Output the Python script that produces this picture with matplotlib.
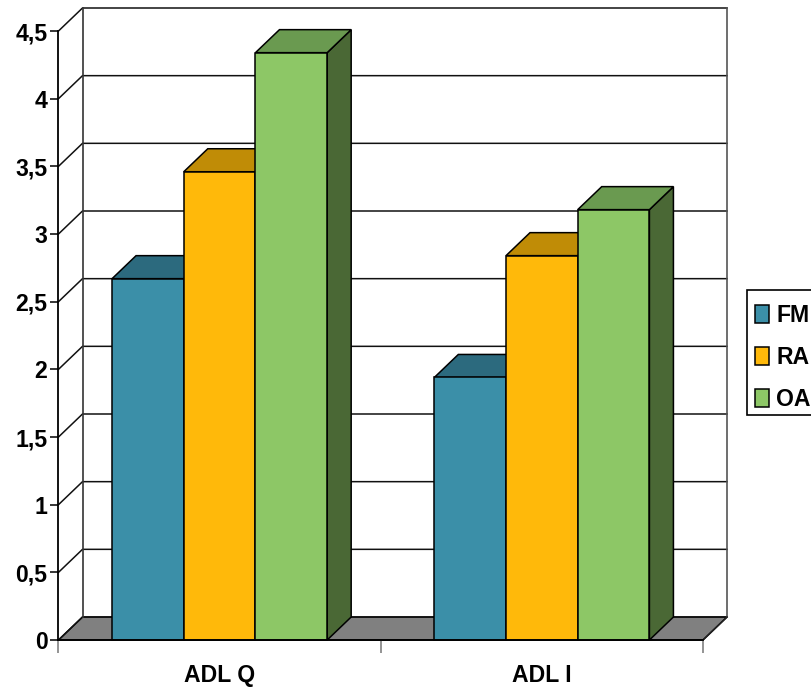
import matplotlib
matplotlib.use('Agg')
import matplotlib.pyplot as plt
from matplotlib.patches import Polygon, Patch, Rectangle

plt.rcParams['font.family'] = ['Liberation Sans', 'DejaVu Sans']
plt.rcParams['font.weight'] = 'bold'

categories = ['ADL Q', 'ADL I']
series = ['FM', 'RA', 'OA']
values_fm = [2.67, 1.94]
values_ra = [3.46, 2.84]
values_oa = [4.34, 3.18]
y_ticks = [0, 0.5, 1, 1.5, 2, 2.5, 3, 3.5, 4, 4.5]
y_labels = ['0', '0,5', '1', '1,5', '2', '2,5', '3', '3,5', '4', '4,5']

front = ['#3b8fa8', '#ffb90a', '#8dc766']
top = ['#2c6a7e', '#c08c06', '#6a9a50']
side = ['#274f5e', '#8a6505', '#4a6835']

W, H = 811, 688
# front plane of the fake 3d box, in pixels
L, R, Y0, Y1 = 58.5, 703, 640, 31
DX = 24 / (R - L) * 2
DY = 23 / (Y0 - Y1) * 4.5
BAR_W = 71.7 / (R - L) * 2

fig = plt.figure(figsize=(W / 100, H / 100), dpi=100)
ax = fig.add_axes([L / W, 1 - Y0 / H, (R - L) / W, (Y0 - Y1) / H])
ax.set_xlim(0, 2)
ax.set_ylim(0, 4.5)
for s in ['top', 'right']:
    ax.spines[s].set_visible(False)
for s in ['left', 'bottom']:
    ax.spines[s].set_linewidth(1.3)
    ax.spines[s].set_zorder(6)


def poly(pts, fc, z, ec='black', lw=1.1):
    ax.add_patch(Polygon(pts, closed=True, facecolor=fc, edgecolor=ec, linewidth=lw,
                         zorder=z, clip_on=False, joinstyle='miter'))


# floor and back wall
poly([(0, 0), (2, 0), (2 + DX, DY), (DX, DY)], '#808080', 1)
for v in y_ticks:
    ax.plot([0, DX, 2 + DX], [v, v + DY, v + DY], color='#111111', lw=1.1,
            clip_on=False, zorder=1.5)
ax.plot([DX, DX], [DY, 4.5 + DY], color='#333333', lw=1.2, clip_on=False, zorder=1.5)
ax.plot([2 + DX, 2 + DX], [DY, 4.5 + DY], color='#555555', lw=1.2, clip_on=False, zorder=1.5)
ax.plot([2, 2 + DX], [0, DY], color='#222222', lw=1.1, clip_on=False, zorder=1.5)

# bars, left to right so each one hides the side of the one before
z = 2
for i, vals in enumerate(zip(values_fm, values_ra, values_oa)):
    x = i + 0.5 - 1.5 * BAR_W
    for j, v in enumerate(vals):
        x0, x1 = x + j * BAR_W, x + (j + 1) * BAR_W
        poly([(x1, 0), (x1 + DX, DY), (x1 + DX, v + DY), (x1, v)], side[j], z)
        poly([(x0, v), (x1, v), (x1 + DX, v + DY), (x0 + DX, v + DY)], top[j], z)
        poly([(x0, 0), (x1, 0), (x1, v), (x0, v)], front[j], z + 0.1)
        z += 0.2

ax.set_yticks(y_ticks, labels=y_labels, fontsize=16.6, fontweight='bold')
ax.tick_params(axis='y', length=6, width=1.1, pad=2)
ax.set_xticks([0, 1, 2], labels=['', '', ''])
ax.tick_params(axis='x', which='major', length=9, width=1.1, color='#777777')
ax.xaxis.get_major_ticks()[0].tick1line.set_color('black')
ax.set_xticks([0.5, 1.5], labels=categories, minor=True, fontsize=16.6, fontweight='bold')
ax.tick_params(axis='x', which='minor', length=0, pad=17.5)

# legend box runs off the right edge of the picture
fig.add_artist(Rectangle((747 / W, 1 - 415 / H), 80 / W, 125 / H, transform=fig.transFigure,
                         facecolor='white', edgecolor='black', linewidth=1.2, clip_on=False))
handles = [Patch(facecolor=c, edgecolor='black', linewidth=1.1) for c in front]
leg = fig.legend(handles, series, loc='upper left',
                 bbox_to_anchor=(754.5 / W, 1 - 304 / H), bbox_transform=fig.transFigure,
                 fontsize=16.6, frameon=False,
                 borderaxespad=0, borderpad=0, handlelength=0.63, handleheight=0.85,
                 handletextpad=0.32, labelspacing=0.83)

fig.savefig('out.png', dpi=100)
